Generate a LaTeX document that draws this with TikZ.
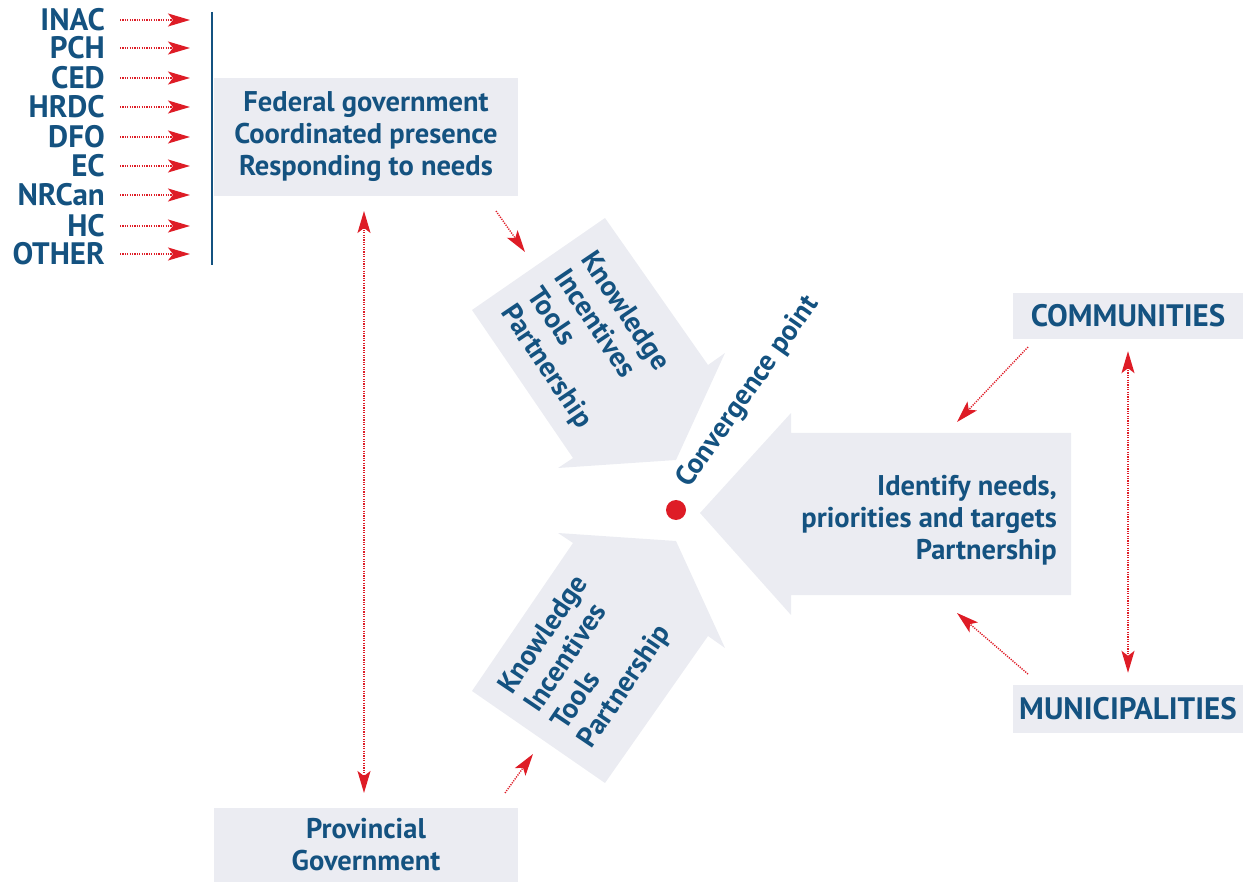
\documentclass[tikz,border=0pt]{standalone}
\usepackage{fontspec}
\setmainfont{PT Sans}
\usetikzlibrary{arrows.meta}
\definecolor{tblue}{RGB}{20,82,128}
\definecolor{tfill}{RGB}{235,236,242}
\definecolor{tred}{RGB}{222,28,38}
\begin{document}
\begin{tikzpicture}[x=1pt,y=-1pt,
  txt/.style={text=tblue,font=\bfseries\fontsize{28.5}{32}\selectfont,inner sep=0pt},
  big/.style={font=\bfseries\fontsize{31}{32}\selectfont},
  lab/.style={txt,big,anchor=east},
  box/.style={txt,fill=tfill,align=center},
  dots/.style={draw=tred,line width=1.4pt,dash pattern=on 1.2pt off 1.2pt,-{Stealth[length=22pt,width=13pt,inset=5pt]}},
  ddots/.style={dots,{Stealth[length=22pt,width=13pt,inset=5pt]}-{Stealth[length=22pt,width=13pt,inset=5pt]}}
]
\useasboundingbox (0,0) rectangle (1243,882);

% big arrows
\fill[tfill] (472,310) -- (605,218) -- (708,365) -- (725,353) -- (676,460) -- (558,468) -- (573,458) -- cycle;
\fill[tfill] (472,691) -- (605,783) -- (708,636) -- (725,648) -- (676,541) -- (558,533) -- (573,543) -- cycle;
\fill[tfill] (1071,433) -- (791,433) -- (791,413) -- (700,513) -- (791,615) -- (791,595) -- (1071,595) -- cycle;

% boxes
\node[box,minimum width=304pt,minimum height=118pt] (fed) at (366,137) {Federal government\\Coordinated presence\\Responding to needs};
\node[box,minimum width=304pt,minimum height=74pt] (prov) at (366,845) {Provincial\\Government};
\node[box,big,minimum width=230pt,minimum height=46pt] (comm) at (1128,316) {COMMUNITIES};
\node[box,big,minimum width=230pt,minimum height=48pt] (muni) at (1128,709) {MUNICIPALITIES};

% arrow texts
\node[txt,rotate=-56,anchor=west,align=left] (up) at (546,282) {Knowledge\\Incentives\\Tools\\Partnership};
\node[txt,rotate=56,anchor=west,align=left] (lo) at (546,719) {Knowledge\\Incentives\\Tools\\Partnership};
\node[txt,anchor=east,align=right] (ident) at (1057,520) {Identify needs,\\priorities and targets\\Partnership};

% convergence point
\fill[tred] (676,510) circle (10pt);
\node[txt,rotate=55,anchor=base west] (conv) at (689,489) {Convergence point};

% left list
\draw[tblue,line width=2.5pt] (212,12) -- (212,265);
\foreach \n/\t/\y in {inac/INAC/20,pch/PCH/48,ced/CED/78,hrdc/HRDC/107,dfo/DFO/137,ec/EC/166,nrcan/NRCan/195,hc/HC/226,other/OTHER/254}{
  \node[lab] (\n) at (105,\y) {\t};
  \coordinate (\n-t) at (190,\y);
  \draw[dots,shorten <=15pt] (\n.east) -- (\n-t);
}

% connectors
\coordinate (fs) at (364,196);
\coordinate (pn) at (364,809);
\draw[ddots,shorten <=15pt,shorten >=16pt] (fs) -- (pn);
\draw[ddots,shorten <=12pt,shorten >=12pt] (comm.south) -- (muni.north);
\coordinate (fa1) at (496,211); \coordinate (fa2) at (525,252);
\draw[dots] (fa1) -- (fa2);
\coordinate (pa1) at (505,793); \coordinate (pa2) at (533,754);
\draw[dots] (pa1) -- (pa2);
\coordinate (ca1) at (1028,347); \coordinate (ca2) at (957,422);
\draw[dots] (ca1) -- (ca2);
\coordinate (ma1) at (1028,674); \coordinate (ma2) at (957,613);
\draw[dots] (ma1) -- (ma2);
\end{tikzpicture}
\end{document}
